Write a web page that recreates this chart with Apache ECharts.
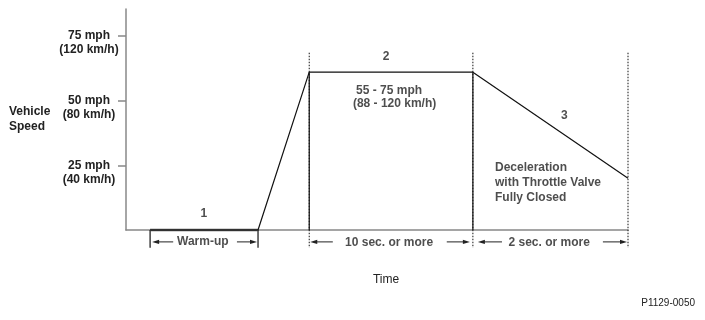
<!DOCTYPE html>
<html>
<head>
<meta charset="utf-8">
<script src="https://cdn.jsdelivr.net/npm/echarts@6/dist/echarts.min.js"></script>
<style>
html,body{margin:0;padding:0;background:#fff;}
#chart{width:705px;height:320px;}
</style>
</head>
<body>
<div id="chart"></div>
<script>
// ---- data ----
const speedTime  = [4.8, 26.3, 36.5, 69.1, 100];
const speedValue = [0, 0, 61, 61, 20];
const warmTime   = [4.8, 26.3];
const warmValue  = [0, 0];
const yTicks     = [25, 50, 75];
const mphLabels  = ['25 mph', '50 mph', '75 mph'];
const kmhLabels  = ['(40 km/h)', '(80 km/h)', '(120 km/h)'];
const phaseBounds   = [36.5, 69.1, 100];
const boundTop      = [68.5, 68.5, 68.5];
const boundSolidTop = [61, 61, 0];
const warmTicks     = [4.8, 26.3];
const dimY          = -4.6;
const dimBottom     = -6.9;
const arrowTail  = [9.4, 22.1, 41.2, 63.9, 74.9, 95.0];
const arrowTip   = [5.2, 26.1, 36.7, 68.5, 70.1, 99.8];
const spanLabels = ['Warm-up', '10 sec. or more', '2 sec. or more'];
const spanLabelX = [15.3, 52.4, 84.3];
const spanLabelY = [-4.6, -5.0, -5.0];
const noteText  = ['1', '2', '3', '55 - 75 mph', '(88 - 120 km/h)', 'Deceleration\nwith Throttle Valve\nFully Closed'];
const noteX     = [15.5, 51.8, 87.3, 52.4, 53.5, 73.5];
const noteY     = [6.2, 66.9, 44.2, 53.8, 48.8, 18.1];
const noteAlign = ['center', 'center', 'center', 'center', 'center', 'left'];

const FONT = '"Liberation Sans", Arial, sans-serif';
const TXT = '#222';

const chart = echarts.init(document.getElementById('chart'), null, {renderer: 'canvas'});

const lineData = speedTime.map((t, i) => [t, speedValue[i]]);
const warmData = warmTime.map((t, i) => [t, warmValue[i]]);
const boundData = phaseBounds.map((x, i) => [x, dimBottom, boundTop[i], boundSolidTop[i]]);
const arrowData = arrowTail.map((t, i) => [t, arrowTip[i], dimY]);
const tickData = warmTicks.map(x => [x, 0, dimBottom]);
const noteData = noteText.map((s, i) => ({
  value: [noteX[i], noteY[i]], name: s,
  label: {align: noteAlign[i]}
}));
const spanData = spanLabels.map((s, i) => ({value: [spanLabelX[i], spanLabelY[i]], name: s}));

const option = {
  animation: false,
  backgroundColor: '#fff',
  grid: {left: 126, right: 77, top: 9, bottom: 90, containLabel: false},
  xAxis: {
    type: 'value', min: 0, max: 100,
    axisLine: {show: true, lineStyle: {color: '#888', width: 1.5}},
    axisTick: {show: false}, axisLabel: {show: false}, splitLine: {show: false},
    name: 'Time', nameLocation: 'middle', nameGap: 44,
    nameTextStyle: {fontFamily: FONT, fontSize: 12, color: TXT, padding: [0, 0, 0, 18]}
  },
  yAxis: {
    type: 'value', min: 0, max: 85.4,
    axisLine: {show: true, lineStyle: {color: '#888', width: 1.5}},
    axisTick: {show: true, customValues: yTicks, length: 8, lineStyle: {color: '#888', width: 1.5}},
    splitLine: {show: false},
    axisLabel: {
      show: true, customValues: yTicks, margin: 37, align: 'center', verticalAlign: 'middle',
      formatter: function (v) {
        const i = yTicks.indexOf(v);
        if (i < 0) return '';
        return '{s| }\n{a|' + mphLabels[i] + '}\n{a|' + kmhLabels[i] + '}';
      },
      rich: {
        s: {lineHeight: 14, height: 14, fontSize: 12},
        a: {lineHeight: 14, fontSize: 12, fontWeight: 'bold', fontFamily: FONT, color: TXT}
      }
    }
  },
  graphic: [
    {type: 'text', left: 9, top: 104, style: {text: 'Vehicle\nSpeed', font: 'bold 12px ' + FONT, fill: TXT, lineHeight: 15}},
    {type: 'text', right: 10, top: 298, style: {text: 'P1129-0050', font: '10px ' + FONT, fill: TXT}}
  ],
  series: [
    {
      type: 'custom', name: 'bounds', clip: false, silent: true, data: boundData,
      renderItem: function (params, api) {
        const x = api.value(0);
        const bot = api.coord([x, api.value(1)]);
        const top = api.coord([x, api.value(2)]);
        const sTop = api.coord([x, api.value(3)]);
        const zero = api.coord([x, 0]);
        const children = [{
          type: 'line', shape: {x1: top[0], y1: top[1], x2: bot[0], y2: bot[1]},
          style: {stroke: '#111', lineWidth: 1, lineDash: [1.5, 1.5]}
        }];
        if (api.value(3) > 0) {
          children.push({
            type: 'line', shape: {x1: sTop[0], y1: sTop[1], x2: zero[0], y2: zero[1]},
            style: {stroke: '#111', lineWidth: 1.2}
          });
        }
        return {type: 'group', children: children};
      }
    },
    {
      type: 'custom', name: 'warmTicks', clip: false, silent: true, data: tickData,
      renderItem: function (params, api) {
        const a = api.coord([api.value(0), api.value(1)]);
        const b = api.coord([api.value(0), api.value(2)]);
        return {type: 'line', shape: {x1: a[0], y1: a[1], x2: b[0], y2: b[1]}, style: {stroke: '#111', lineWidth: 1.2}};
      }
    },
    {
      type: 'custom', name: 'arrows', clip: false, silent: true, data: arrowData,
      renderItem: function (params, api) {
        const p1 = api.coord([api.value(0), api.value(2)]);
        const p2 = api.coord([api.value(1), api.value(2)]);
        const d = p2[0] > p1[0] ? 1 : -1;
        return {
          type: 'group', children: [
            {type: 'line', shape: {x1: p1[0], y1: p1[1], x2: p2[0] - d * 5, y2: p2[1]}, style: {stroke: '#222', lineWidth: 1}},
            {type: 'polygon', shape: {points: [[p2[0], p2[1]], [p2[0] - d * 7, p2[1] - 2.2], [p2[0] - d * 7, p2[1] + 2.2]]}, style: {fill: '#222'}}
          ]
        };
      }
    },
    {
      type: 'line', name: 'warm', data: warmData, showSymbol: false, clip: false, silent: true,
      lineStyle: {color: '#555', width: 2.5}, z: 3
    },
    {
      type: 'line', name: 'speed', data: lineData, showSymbol: false, clip: false, silent: true,
      lineStyle: {color: '#111', width: 1.2}, z: 4
    },
    {
      type: 'scatter', name: 'notes', data: noteData, symbolSize: 0, clip: false, silent: true,
      label: {show: true, position: 'inside', formatter: '{b}', fontFamily: FONT, fontSize: 12,
        fontWeight: 'bold', color: TXT, lineHeight: 15}
    },
    {
      type: 'scatter', name: 'spans', data: spanData, symbolSize: 0, clip: false, silent: true,
      label: {show: true, position: 'inside', formatter: '{b}', fontFamily: FONT, fontSize: 12,
        fontWeight: 'bold', color: TXT}
    }
  ]
};
chart.setOption(option);
</script>
</body>
</html>
